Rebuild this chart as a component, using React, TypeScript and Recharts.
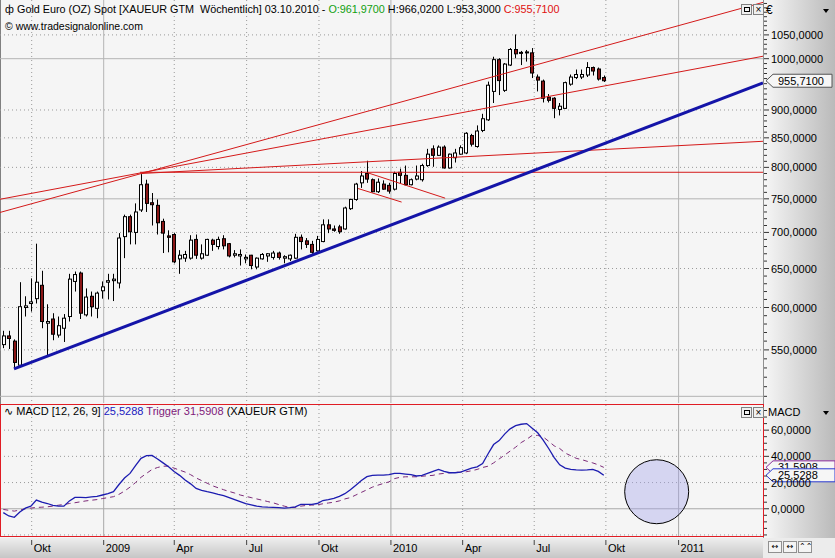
import React from 'react'
import {
  ComposedChart, Bar, Line, XAxis, YAxis, CartesianGrid, ReferenceLine, ReferenceDot,
} from 'recharts'

// weekly candles, week 0 = end of Aug 2008 ... week 109 = 03.10.2010
const opens = [
  556, 566, 560, 533, 600, 605, 611, 628, 581, 586,
  567, 575, 589, 633, 644, 591, 614, 599, 621, 632,
  634, 631, 694, 723, 700, 733, 773, 744, 740, 716,
  695, 697, 663, 664, 664, 690, 664, 668, 689, 680,
  691, 684, 668, 667, 663, 668, 652, 663, 667, 665,
  671, 664, 663, 664, 693, 688, 683, 674, 687, 711,
  705, 708, 705, 735, 749, 775, 790, 780, 761, 773,
  771, 765, 792, 787, 772, 781, 780, 803, 831, 820,
  834, 799, 816, 822, 824, 854, 835, 863, 882, 935,
  998, 937, 987, 1019, 1013, 1012, 1012, 963, 955, 924,
  922, 901, 903, 949, 962, 963, 967, 982, 979, 961.97,
]
const highs = [
  572, 572, 562, 632, 614, 637, 684, 647, 604, 593,
  589, 592, 643, 646, 646, 624, 620, 620, 633, 643,
  643, 699, 726, 726, 743, 789, 780, 759, 749, 720,
  703, 699, 675, 674, 696, 697, 683, 691, 691, 694,
  696, 685, 675, 676, 669, 668.5, 665, 671, 671, 674,
  673, 668, 669, 698, 697, 692, 688, 695, 719, 719,
  710, 711, 738, 750, 775, 794, 811, 782, 782, 779,
  775, 793, 798, 803, 782, 803, 806, 831, 837, 837,
  837, 823, 831, 837, 860, 857, 872, 893, 954, 1004,
  1001, 991, 1022, 1051, 1016, 1018, 1022, 968, 958, 930,
  924, 913, 954, 968, 978, 978, 993, 984, 982, 966.02,
]
const lows = [
  552, 551, 530, 531, 589, 595, 605, 575, 544, 561,
  564, 559, 583, 620, 586, 589, 589, 587, 611, 610,
  608, 624, 664, 683, 683, 730, 730, 710, 697, 671,
  672, 657, 643, 659, 662, 663, 662, 667, 674, 676,
  676, 665, 665, 654, 657, 649, 649, 662, 659, 662,
  662, 657, 660, 663, 676, 678, 670, 673, 686, 699,
  701, 698, 704, 733, 747, 767, 775, 760, 759, 764,
  758, 763, 774, 771, 771, 779, 777, 801, 801, 819,
  798, 798, 808, 821, 822, 835, 833, 860, 880, 913,
  928, 934, 985, 1001, 987, 994, 961, 935, 914, 914,
  885, 890, 902, 946, 959, 959, 963, 966, 956, 953.3,
]
const closes = [
  566, 563, 536, 601, 602, 607, 632, 583, 583, 568,
  578, 587, 636, 642, 593, 613, 601, 618, 626, 634,
  636, 692, 723, 701, 730, 772, 743, 741, 714, 699,
  693, 659, 668, 669, 689, 668, 670, 690, 683, 690,
  681, 667, 670, 669, 665, 654, 664, 669, 670, 671,
  665, 666, 668, 693, 687, 683, 672, 690, 711, 705,
  703, 701, 736, 749, 773, 786, 781, 761, 776, 765,
  762, 790, 787, 772, 780, 786, 803, 822, 820, 834,
  799, 822, 824, 833, 858, 839, 862, 884, 947, 998,
  956, 989, 1019, 1010, 1011, 1014, 971, 957, 922, 918,
  903, 907, 952, 963, 968, 968, 982, 975, 959, 955.71,
]

const macdLine = [
  -3, -5.5, -6.5, -2.5, 0.5, 2, 6.6, 5, 4, 2.5,
  2, 2, 6, 8.7, 8.7, 8.5, 9, 9.5, 10.5, 11.5,
  13, 18.5, 23.5, 27, 33, 38.5, 40.5, 40.7, 38, 35,
  32, 28.5, 25.5, 22, 19, 15.5, 14, 13, 12.2, 11,
  10, 8.5, 7, 5.5, 4, 3, 2, 1.5, 1.2, 1,
  0.8, 0.5, 0.8, 1.5, 3.3, 3.3, 3.3, 4, 6.3, 7,
  7.9, 9.5, 11.5, 14.5, 18, 21.5, 24.5, 25.5, 25.7, 25.7,
  26, 27, 27, 26.5, 26, 25, 25.5, 27, 28.5, 30,
  28.5, 27.5, 27.5, 28, 29.5, 31, 32, 34.5, 42, 49,
  52, 57, 61, 63.5, 64.5, 65, 61.5, 58, 52.4, 46,
  39, 33.5, 31, 30, 29.7, 29.5, 29.7, 30, 28.5, 25.5288,
]
const triggerLine = [
  -0.5, -1.2, -1.8, -1, 0, 0.5, 1, 1.2, 1.5, 2,
  2.7, 3.3, 4, 4.6, 5.3, 6, 6.5, 7, 7.8, 8.5,
  9.2, 11, 13.5, 16.5, 20, 24, 27, 30, 31.5, 32.5,
  32.5, 31, 29.5, 28, 26, 23.5, 21.5, 19.5, 17.5, 16,
  14.5, 13.2, 12, 10.5, 9.5, 8.5, 7.5, 6.5, 5.5, 4.5,
  3.2, 2, 1, 1, 2, 2.5, 2.8, 3, 3.8, 4.4,
  5, 6, 7.5, 8.5, 10.5, 12.5, 14.5, 16.5, 18, 19.3,
  20.5, 23, 24, 24.4, 24.4, 24.4, 24.8, 25.2, 25.5, 26.5,
  27, 27.5, 27.8, 28, 28.2, 29, 30, 31.5, 32.5, 35,
  38, 41, 44, 47, 50.5, 53, 56, 56, 54.8, 51.5,
  48, 46, 42.5, 40.5, 38.5, 37.5, 36.2, 35, 33.5, 31.5908,
]

// time axis (week index of month starts)
const tickPos = [5.15, 18.22, 31.03, 44.17, 57.3, 70.36, 83.38, 96.37, 109.38, 122.58]
const tickLabels = ['Okt', '2009', 'Apr', 'Jul', 'Okt', '2010', 'Apr', 'Jul', 'Okt', '2011']
const yearPos = [18.22, 70.36, 122.58]
const quarterPos = [5.15, 31.03, 44.17, 57.3, 83.38, 96.37, 109.38]

const priceLabels = [550, 600, 650, 700, 750, 800, 850, 900, 1000, 1050]
const priceDotted = [550, 600, 650, 700, 800, 850, 900, 1050]
const priceSolid = [500, 750, 1000]
const macdLabels = [0, 20, 40, 60]
const macdDotted = [-20, 20, 40, 60]
const macdSolid = [0]

// drawn trend lines: [week, price, week, price]
const redLines = [
  [-0.6, 729.3, 137.9, 1122.5],
  [-0.6, 749.3, 137.9, 1005],
  [25, 790, 137.9, 844],
  [24.8, 792, 137.9, 792],
  [66.2, 791, 80.2, 751],
  [64.4, 766, 72.3, 745],
]
const blueLine = [1.94, 528.9, 137.9, 951.4]
const circleMark = { x: 118.6, y: 13 }

const XMIN = -0.6
const XMAX = 137.9
const FONT = '"Liberation Sans", Arial, sans-serif'

const candles = opens.map((o, i) => ({
  i,
  wick: [lows[i], highs[i]],
  body: [Math.min(o, closes[i]), Math.max(o, closes[i])],
  up: closes[i] >= o,
}))
const macdRows = macdLine.map((m, i) => ({ i, macd: m, trig: triggerLine[i] }))

const priceMinor: number[] = []
for (let v = 500; v <= 1120; v += 10) priceMinor.push(v)
const macdMinor: number[] = []
for (let v = -20; v <= 75; v += 5) macdMinor.push(v)

const fmt4 = (v: number) => v.toFixed(4).replace('.', ',')

const Wick = (p: any) => {
  const cx = Math.round(p.x + p.width / 2) + 0.5
  return <line x1={cx} x2={cx} y1={p.y} y2={p.y + p.height} stroke="#000" strokeWidth={1} />
}

const Body = (p: any) => {
  const cx = Math.round(p.x + p.width / 2)
  const h = Math.max(1, p.height)
  return (
    <rect x={cx - 1.5} y={p.y} width={3} height={h}
      fill={p.payload.up ? '#ffffff' : '#8a1616'} stroke="#000" strokeWidth={1} />
  )
}

const makeAxisTick = (labels: number[]) => (p: any) => {
  const v = p.payload.value
  const major = labels.includes(v)
  return (
    <g>
      <line x1={p.x + 1} x2={p.x + (major ? 6 : 4)} y1={p.y} y2={p.y} stroke="#333" />
      {major && (
        <text x={p.x + 8} y={p.y + 4} fontSize={11} fontFamily={FONT} fill="#000">{fmt4(v)}</text>
      )}
    </g>
  )
}

const TimeTick = (p: any) => {
  const k = tickPos.indexOf(p.payload.value)
  return (
    <g>
      <line x1={p.x} x2={p.x} y1={p.y + 4} y2={p.y + 9} stroke="#444" />
      <text x={p.x + 2} y={p.y + 16} fontSize={11} fontFamily={FONT} fill="#000">{tickLabels[k]}</text>
    </g>
  )
}

const AxisMarker = (p: any) => {
  const x = p.viewBox.x + p.viewBox.width
  const y = p.viewBox.y
  return (
    <g>
      <path d={`M${x + 3},${y} L${x + 10},${y - 6.5} H${x + p.w} V${y + 6.5} H${x + 10} Z`}
        fill="#f6f6f6" stroke={p.border} />
      <text x={x + 15} y={y + 4} fontSize={11} fontFamily={FONT} fill="#000">{fmt4(p.num)}</text>
    </g>
  )
}

const PanelButtons = ({ top }: { top: number }) => (
  <div style={{ position: 'absolute', left: 741, top, display: 'flex', gap: 1 }}>
    <div style={{ width: 9, height: 9, border: '1px solid #808080', background: '#f0f0f0', position: 'relative' }}>
      <div style={{ position: 'absolute', left: 2, top: 2, width: 4, height: 3, border: '1px solid #000' }} />
    </div>
    <div style={{ width: 9, height: 9, border: '1px solid #808080', background: '#f0f0f0', fontSize: 10, lineHeight: '9px', textAlign: 'center' }}>×</div>
  </div>
)

const Triangle = ({ top }: { top: number }) => (
  <div style={{ position: 'absolute', left: 823, top, width: 0, height: 0, borderLeft: '3px solid transparent', borderRight: '3px solid transparent', borderTop: '4px solid #000' }} />
)

export default function App() {
  const lastClose = closes[closes.length - 1]
  const lastMacd = macdLine[macdLine.length - 1]
  const lastTrig = triggerLine[triggerLine.length - 1]
  return (
    <div style={{ position: 'fixed', left: 0, top: 0, width: 835, height: 558, background: '#f5f5f5', overflow: 'hidden', fontFamily: FONT }}>
      <div style={{ position: 'absolute', left: 763, top: 0, width: 72, height: 538, background: 'linear-gradient(to right, #f7f7f7, #bababa)' }} />
      <div style={{ position: 'absolute', left: 0, top: 538, width: 763, height: 20, background: 'linear-gradient(to bottom, #eeeeee, #c6c6c6)' }} />
      <div style={{ position: 'absolute', left: 763, top: 538, width: 72, height: 20, background: '#ececec' }} />
      <div style={{ position: 'absolute', left: 0, top: 0, width: 1, height: 404, background: '#808080' }} />
      <div style={{ position: 'absolute', left: 763, top: 0, width: 1, height: 538, background: '#909090' }} />

      <div style={{ position: 'absolute', left: 0, top: 0 }}>
        <ComposedChart width={835} height={404} data={candles} margin={{ top: 0, right: 0, bottom: 1, left: 0 }}>
          <XAxis xAxisId="w" dataKey="i" type="number" domain={[XMIN, XMAX]} allowDataOverflow hide />
          <XAxis xAxisId="b" dataKey="i" type="number" domain={[XMIN, XMAX]} allowDataOverflow hide />
          <YAxis yAxisId="p" orientation="right" scale="log" domain={[493.2, 1128]} allowDataOverflow
            ticks={priceMinor} interval={0} width={72} axisLine={false} tickLine={false}
            tickSize={0} tickMargin={0} tick={makeAxisTick(priceLabels)} />
          <CartesianGrid xAxisId="w" yAxisId="p" horizontalValues={priceDotted} verticalValues={quarterPos}
            stroke="#9a9a9a" strokeDasharray="1 3" />
          <CartesianGrid xAxisId="w" yAxisId="p" horizontalValues={priceSolid} verticalValues={yearPos}
            stroke="#b4b4b4" />
          <Bar xAxisId="w" yAxisId="p" dataKey="wick" barSize={1} shape={<Wick />} isAnimationActive={false} />
          <Bar xAxisId="b" yAxisId="p" dataKey="body" barSize={4} shape={<Body />} isAnimationActive={false} />
          {redLines.map((l, k) => (
            <ReferenceLine key={k} xAxisId="w" yAxisId="p" ifOverflow="hidden"
              segment={[{ x: l[0], y: l[1] }, { x: l[2], y: l[3] }]} stroke="#d41a1a" strokeWidth={1} />
          ))}
          <ReferenceLine xAxisId="w" yAxisId="p" ifOverflow="hidden"
            segment={[{ x: blueLine[0], y: blueLine[1] }, { x: blueLine[2], y: blueLine[3] }]}
            stroke="#1414a8" strokeWidth={3} />
          <ReferenceLine xAxisId="w" yAxisId="p" y={lastClose} stroke="none"
            label={<AxisMarker num={lastClose} border="#555" w={69} />} />
        </ComposedChart>
      </div>

      <div style={{ position: 'absolute', left: 0, top: 404 }}>
        <ComposedChart width={835} height={154} data={macdRows} margin={{ top: 1, right: 0, bottom: 0, left: 0 }}>
          <XAxis xAxisId="m" dataKey="i" type="number" domain={[XMIN, XMAX]} allowDataOverflow
            ticks={tickPos} interval={0} height={22} axisLine={false} tickLine={false}
            tickSize={0} tickMargin={0} tick={<TimeTick />} />
          <YAxis yAxisId="v" orientation="right" domain={[-20.8, 79.2]} allowDataOverflow
            ticks={macdMinor} interval={0} width={72} axisLine={false} tickLine={false}
            tickSize={0} tickMargin={0} tick={makeAxisTick(macdLabels)} />
          <CartesianGrid xAxisId="m" yAxisId="v" horizontalValues={macdDotted} verticalValues={quarterPos}
            stroke="#9a9a9a" strokeDasharray="1 3" />
          <CartesianGrid xAxisId="m" yAxisId="v" horizontalValues={macdSolid} verticalValues={yearPos}
            stroke="#a8a8a8" />
          <Line xAxisId="m" yAxisId="v" dataKey="trig" stroke="#7c2a78" strokeWidth={1}
            strokeDasharray="5 4" dot={false} isAnimationActive={false} />
          <Line xAxisId="m" yAxisId="v" dataKey="macd" stroke="#1c1cb0" strokeWidth={1.3}
            dot={false} isAnimationActive={false} />
          <ReferenceDot xAxisId="m" yAxisId="v" x={circleMark.x} y={circleMark.y} r={32}
            fill="rgba(165,165,235,0.4)" stroke="#000" strokeWidth={1} />
          <ReferenceLine xAxisId="m" yAxisId="v" y={lastTrig} stroke="none"
            label={<AxisMarker num={lastTrig} border="#8a2a9a" w={72} />} />
          <ReferenceLine xAxisId="m" yAxisId="v" y={lastMacd} stroke="none"
            label={<AxisMarker num={lastMacd} border="#2a3ad0" w={72} />} />
        </ComposedChart>
      </div>

      <div style={{ position: 'absolute', left: 0, top: 404, width: 764, height: 133, border: '1px solid #e01c24', boxSizing: 'border-box', pointerEvents: 'none' }} />

      <div style={{ position: 'absolute', left: 5, top: 3, fontSize: 10.8, whiteSpace: 'nowrap', color: '#000' }}>
        <span style={{ display: 'inline-block', width: 12 }}>ф</span>
        Gold Euro (OZ) Spot [XAUEUR GTM&nbsp; Wöchentlich] 03.10.2010 - <span style={{ color: '#10a010' }}>O:961,9700</span> H:966,0200 L:953,3000 <span style={{ color: '#e01010' }}>C:955,7100</span>
      </div>
      <div style={{ position: 'absolute', left: 5, top: 20, fontSize: 10.5, whiteSpace: 'nowrap', color: '#000' }}>
        © www.tradesignalonline.com
      </div>
      <div style={{ position: 'absolute', left: 4, top: 405, fontSize: 11, whiteSpace: 'nowrap', color: '#000' }}>
        <span style={{ fontFamily: '"DejaVu Sans"' }}>∿</span> MACD [12, 26, 9] <span style={{ color: '#2020c0' }}>25,5288</span> <span style={{ color: '#80207a' }}>Trigger 31,5908</span> (XAUEUR GTM)
      </div>

      <PanelButtons top={4} />
      <PanelButtons top={407} />
      <div style={{ position: 'absolute', left: 766, top: 3, fontSize: 12 }}>€</div>
      <Triangle top={9} />
      <div style={{ position: 'absolute', left: 768, top: 406, fontSize: 11 }}>MACD</div>
      <Triangle top={411} />
      <div style={{ position: 'absolute', left: 768, top: 541, display: 'flex', gap: 1, fontFamily: '"DejaVu Sans"', fontSize: 8 }}>
        {['↔', '↔', '⌃⌃'].map((s, k) => (
          <div key={k} style={{ width: 12, height: 10, border: '1px solid #909090', background: '#f4f4f4', lineHeight: '10px', textAlign: 'center' }}>{s}</div>
        ))}
      </div>
    </div>
  )
}
